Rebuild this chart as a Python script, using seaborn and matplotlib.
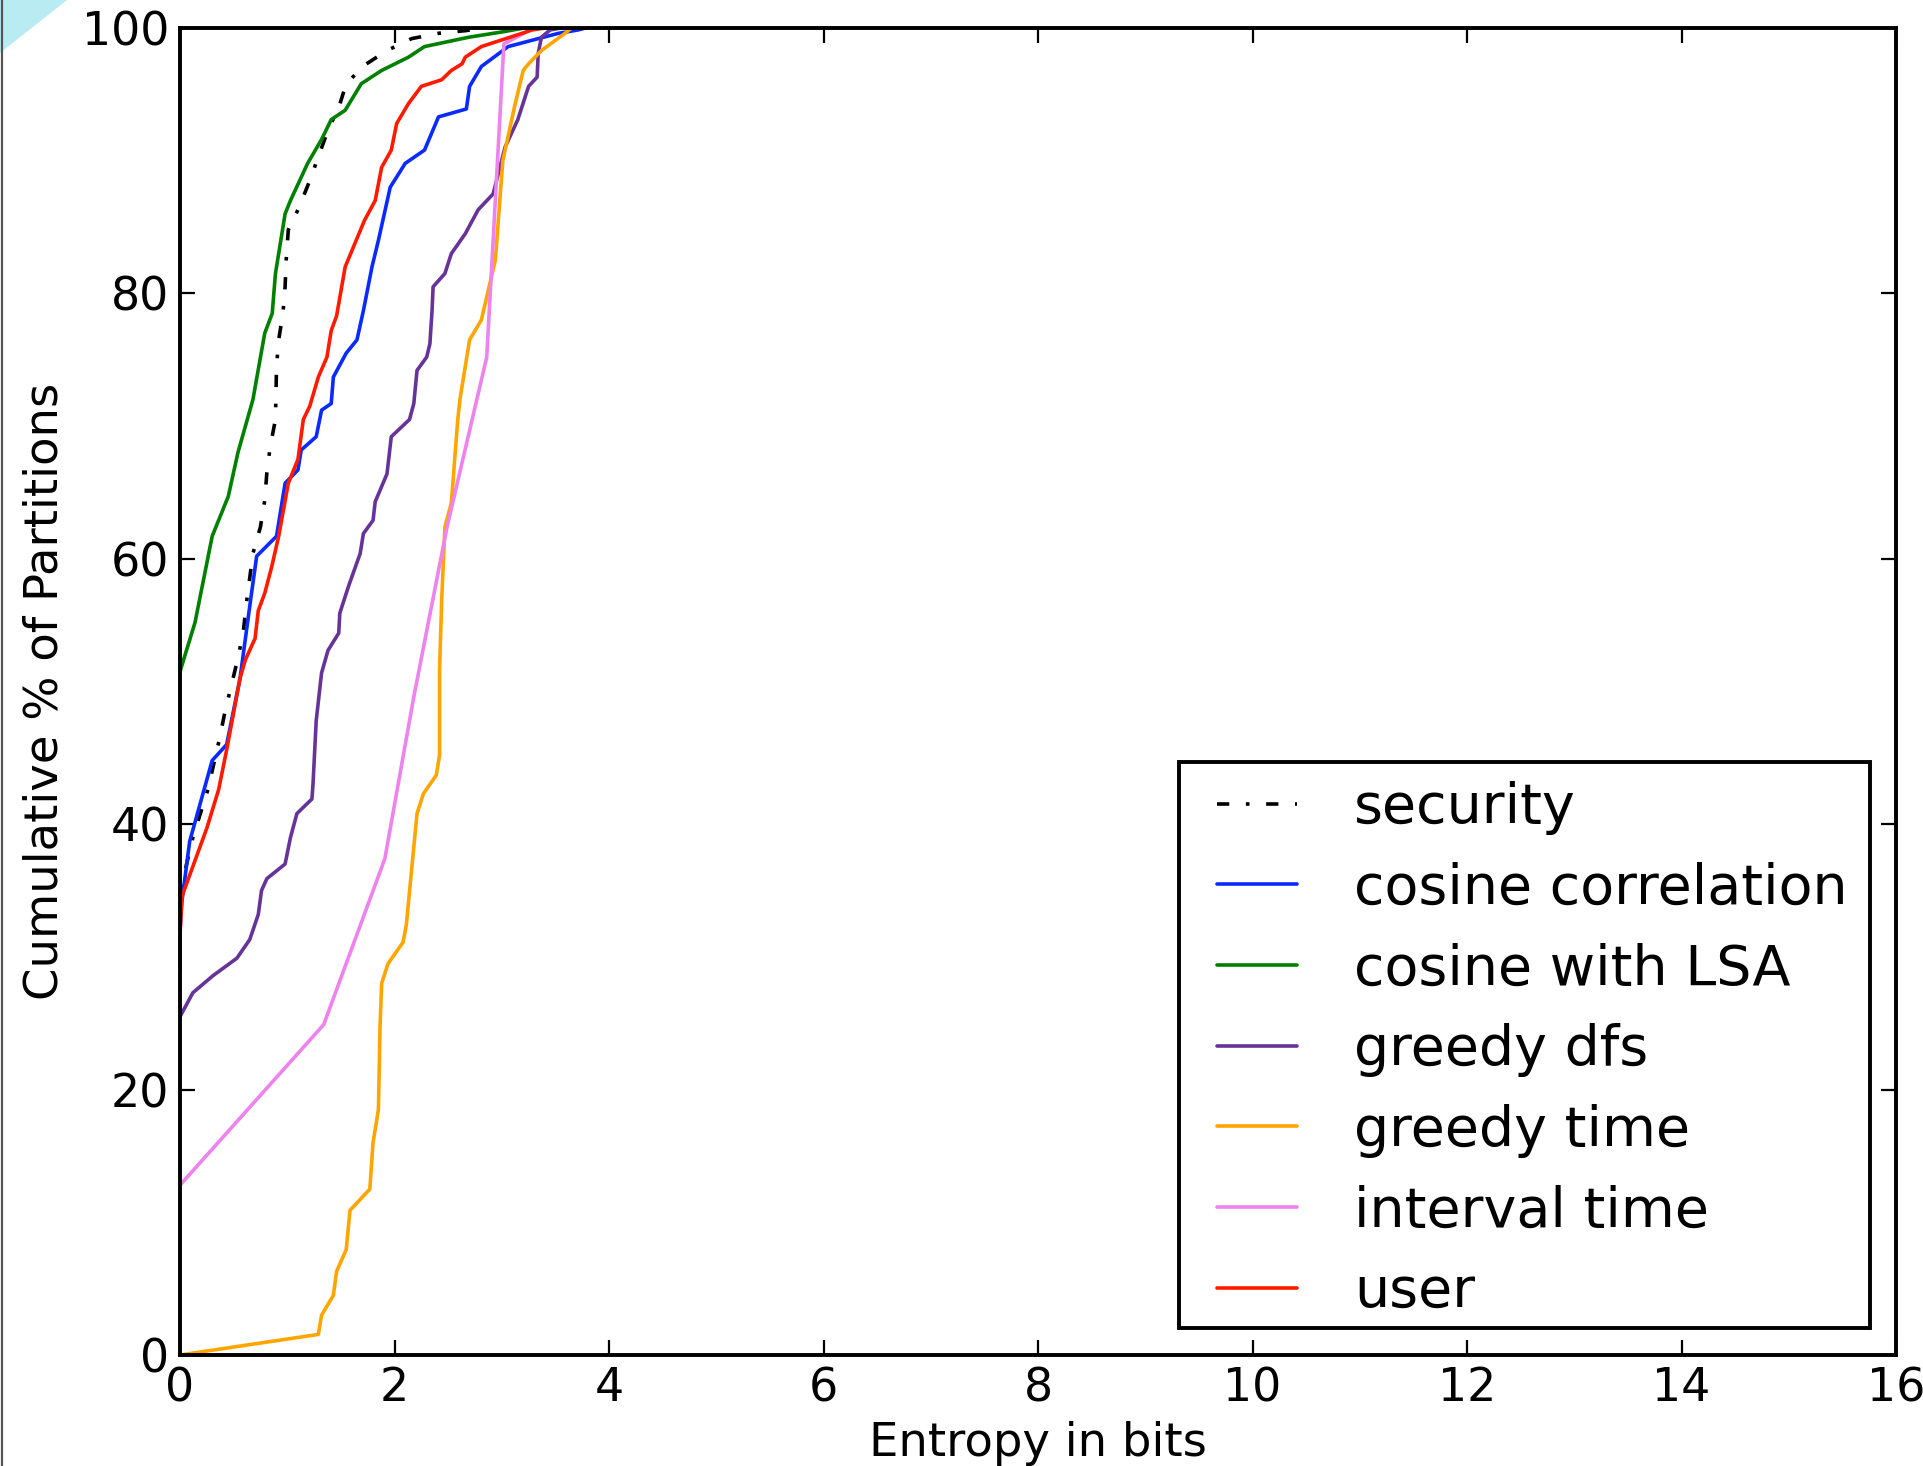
import matplotlib
matplotlib.use("Agg")
import matplotlib.pyplot as plt
from matplotlib.patches import Polygon, Rectangle
from matplotlib.lines import Line2D
import seaborn as sns
import pandas as pd

# ---------------- data ----------------
security_x = [0, 0.03, 0.05, 0.12, 0.19, 0.26, 0.37, 0.42, 0.48, 0.54, 0.59, 0.62, 0.68, 0.75,
              0.79, 0.81, 0.84, 0.89, 0.895, 0.90, 0.92, 0.96, 0.98, 0.99, 1.01, 1.10, 1.20,
              1.29, 1.38, 1.48, 1.55, 1.72, 1.93, 2.16, 2.41, 2.66, 2.85]
security_y = [33, 35.5, 36.6, 39, 40.8, 42.6, 46.5, 48.5, 50.5, 52.5, 54.5, 56.7, 60.4, 62.4,
              64.4, 66.5, 68.4, 70.5, 72.5, 74.5, 76.5, 78.5, 80.5, 82.5, 84.8, 86.3, 88.3,
              90.3, 92.3, 94.0, 95.8, 97.2, 98.3, 99.2, 99.6, 99.8, 100]

cosine_x = [0, 0, 0.015, 0.09, 0.30, 0.435, 0.56, 0.62, 0.66, 0.715, 0.90, 0.98, 1.10, 1.13,
            1.27, 1.32, 1.41, 1.43, 1.55, 1.65, 1.71, 1.79, 1.85, 1.96, 2.10, 2.28, 2.41, 2.67,
            2.70, 2.81, 3.06, 3.34, 3.53, 3.71, 3.78]
cosine_y = [29, 32, 34, 38.7, 44.8, 46, 51, 54.6, 57, 60.2, 61.7, 65.7, 66.7, 68.2,
            69.2, 71.2, 71.7, 73.7, 75.5, 76.5, 78.7, 82.0, 84.0, 88.0, 89.8, 90.8, 93.3, 93.9,
            95.6, 97.1, 98.6, 99.2, 99.6, 99.85, 100]

lsa_x = [0, 0.14, 0.30, 0.45, 0.54, 0.68, 0.79, 0.86, 0.89, 0.98, 1.03, 1.19, 1.32, 1.41,
         1.54, 1.69, 1.88, 2.13, 2.28, 2.69, 3.0, 3.21]
lsa_y = [51.5, 55.2, 61.7, 64.7, 68.0, 72.0, 77.0, 78.5, 81.5, 86.0, 87.0, 89.8, 91.6, 93.1,
         93.8, 95.8, 96.8, 97.8, 98.6, 99.3, 99.7, 100]

dfs_x = [0, 0.12, 0.31, 0.53, 0.65, 0.73, 0.76, 0.81, 0.98, 1.03, 1.09, 1.23, 1.24, 1.27,
         1.32, 1.38, 1.48, 1.49, 1.57, 1.68, 1.71, 1.80, 1.82, 1.93, 1.97, 2.14, 2.18, 2.21,
         2.30, 2.33, 2.35, 2.36, 2.47, 2.53, 2.66, 2.78, 2.92, 3.03, 3.15, 3.25, 3.33, 3.34,
         3.37, 3.45, 3.55]
dfs_y = [25.5, 27.3, 28.6, 29.9, 31.3, 33.2, 35.0, 35.9, 37.0, 39.0, 40.8, 41.9, 43.0, 47.8,
         51.4, 53.1, 54.4, 55.9, 57.9, 60.4, 61.9, 62.9, 64.3, 66.4, 69.2, 70.5, 71.7, 74.2,
         75.2, 76.2, 78.7, 80.5, 81.5, 83.0, 84.5, 86.3, 87.5, 91.0, 93.1, 95.6, 96.3, 98.1,
         99.3, 99.85, 100]

gtime_x = [0, 1.29, 1.32, 1.43, 1.46, 1.55, 1.585, 1.77, 1.80, 1.85, 1.865, 1.88, 1.94, 2.08,
           2.11, 2.21, 2.27, 2.39, 2.42, 2.42, 2.44, 2.47, 2.53, 2.59, 2.61, 2.70, 2.81, 2.94,
           3.01, 3.12, 3.20, 3.25, 3.37, 3.59, 3.65]
gtime_y = [0, 1.55, 3.0, 4.5, 6.3, 7.95, 10.9, 12.5, 16.0, 18.5, 24.7, 28.0, 29.5, 31.1,
           32.4, 40.8, 42.3, 43.7, 45.2, 51.6, 56.9, 62.4, 64.2, 70.5, 72.0, 76.5, 78.0, 82.5,
           90.0, 94.1, 96.8, 97.3, 98.3, 99.6, 100]

itime_x = [0, 1.34, 1.91, 2.18, 2.49, 2.86, 3.02, 3.3]
itime_y = [12.8, 24.9, 37.4, 49.6, 62.4, 75.2, 98.8, 100]

user_x = [0, 0.02, 0.25, 0.36, 0.435, 0.56, 0.61, 0.70, 0.73, 0.79, 0.855, 0.92, 1.01, 1.10,
          1.15, 1.21, 1.29, 1.37, 1.41, 1.46, 1.54, 1.72, 1.82, 1.88, 1.97, 2.02, 2.13, 2.25,
          2.44, 2.53, 2.63, 2.66, 2.81, 3.0, 3.19, 3.28, 3.4]
user_y = [31.7, 34.6, 39.7, 42.6, 45.6, 51.0, 52.4, 54.0, 56.1, 57.4, 59.4, 61.7, 65.7, 67.5,
          70.5, 71.5, 73.7, 75.2, 77.2, 78.3, 82.0, 85.5, 87.0, 89.5, 90.8, 92.8, 94.3, 95.6,
          96.1, 96.8, 97.3, 97.8, 98.6, 99.1, 99.6, 99.85, 100]

labels = ["security", "cosine correlation", "cosine with LSA", "greedy dfs",
          "greedy time", "interval time", "user"]
series_x = [security_x, cosine_x, lsa_x, dfs_x, gtime_x, itime_x, user_x]
series_y = [security_y, cosine_y, lsa_y, dfs_y, gtime_y, itime_y, user_y]
colors = ["black", "#0a2aff", "#008000", "#663399", "#ffa500", "#ee82ee", "#ff1a00"]

x_ticks = [0, 2, 4, 6, 8, 10, 12, 14, 16]
y_ticks = [0, 20, 40, 60, 80, 100]

# ---------------- style ----------------
sns.set_style("ticks")
plt.rcParams["font.family"] = ["DejaVu Sans"]
plt.rcParams["text.color"] = "black"
plt.rcParams["axes.labelcolor"] = "black"
plt.rcParams["xtick.color"] = "black"
plt.rcParams["ytick.color"] = "black"

W, H = 1923, 1466
fig = plt.figure(figsize=(W / 100, H / 100), dpi=100)
ax = fig.add_axes([180 / W, 1 - 1355 / H, (1896 - 180) / W, (1355 - 28) / H])

LW = 2.6
for lab, xs, ys, col in zip(labels, series_x, series_y, colors):
    df = pd.DataFrame({"x": xs, "y": ys})
    kw = {}
    if lab == "security":
        kw["linestyle"] = (0, (3.4, 4.6, 1.0, 4.6))
    sns.lineplot(data=df, x="x", y="y", ax=ax, color=col, label=lab, linewidth=LW,
                 sort=False, estimator=None, **kw)

ax.set_xlim(0, 16)
ax.set_ylim(0, 100)
ax.set_xticks(x_ticks)
ax.set_yticks(y_ticks)
ax.set_xticklabels([str(t) for t in x_ticks])
ax.set_yticklabels([str(t) for t in y_ticks])
ax.tick_params(axis="both", which="major", direction="in", length=11, width=1.6,
               labelsize=33, pad=8, top=True, right=True, colors="black",
               labelcolor="black")
for sp in ax.spines.values():
    sp.set_visible(True)
    sp.set_linewidth(2.8)
    sp.set_color("black")

ax.set_xlabel("Entropy in bits", fontsize=33.5, labelpad=7, color="black")
ax.set_ylabel("Cumulative % of Partitions", fontsize=33.5, labelpad=10, color="black")

# legend: content placed without frame, frame drawn around it with separate paddings
padL, padR, padT, padB = 38, 22, 19, 9
frame_right, frame_bottom = 1870, 1328
leg = ax.legend(loc="lower right",
                bbox_to_anchor=((frame_right - padR) / W, 1 - (frame_bottom - padB) / H),
                bbox_transform=fig.transFigure, fontsize=40, frameon=False,
                handlelength=1.43, handletextpad=1.04, borderpad=0.0,
                labelspacing=0.48, borderaxespad=0.0)
for t in leg.get_texts():
    t.set_color("black")
fig.canvas.draw()
bb = leg.get_window_extent()
ax.add_patch(Rectangle(((bb.x0 - padL) / W, (bb.y0 - padB) / H),
                       (bb.width + padL + padR) / W, (bb.height + padT + padB) / H,
                       transform=fig.transFigure, facecolor="white", edgecolor="black",
                       linewidth=2.8, clip_on=False, zorder=4.9))

# decorations at the image border
fig.patches.append(Polygon([[0, 1], [67 / W, 1], [0, 1 - 53 / H]], closed=True,
                           transform=fig.transFigure, facecolor="#b8ecf2",
                           edgecolor="none", zorder=0))
fig.lines.append(Line2D([0.0008, 0.0008], [0, 1], transform=fig.transFigure,
                        color="#555555", linewidth=1.6))

fig.savefig("out.png", dpi=100)
